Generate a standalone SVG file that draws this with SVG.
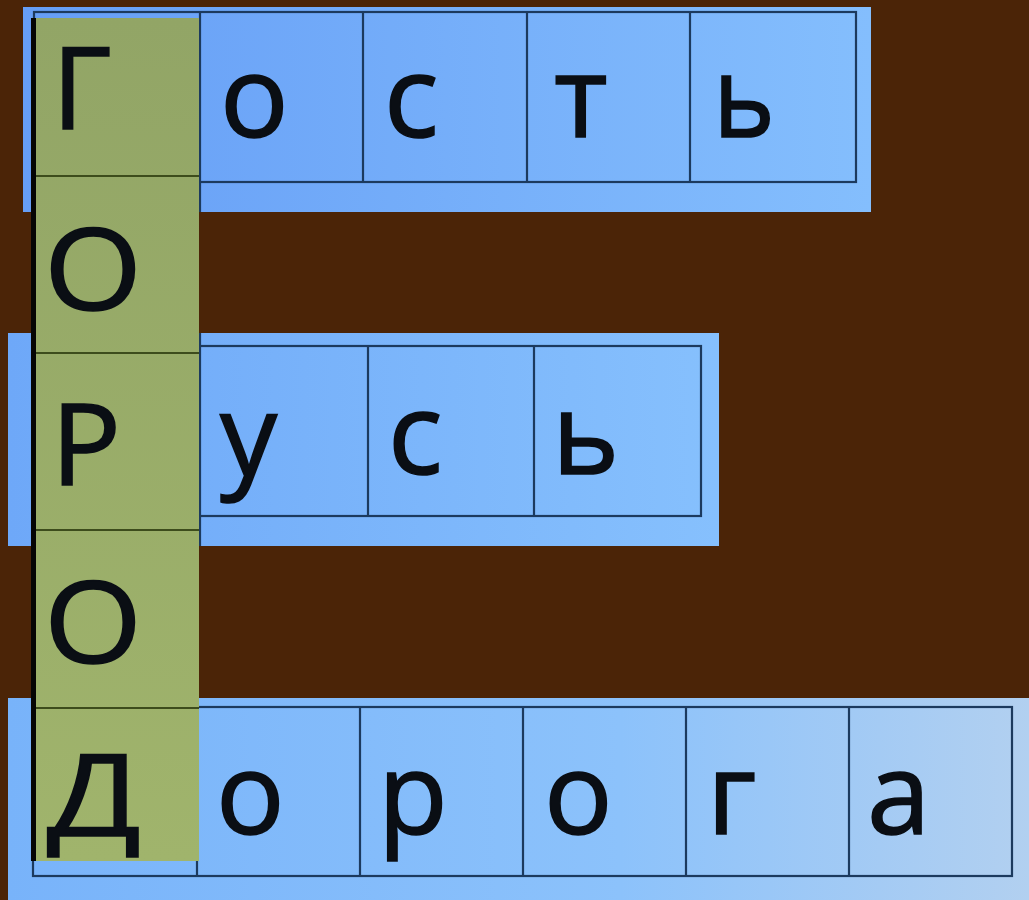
<svg xmlns="http://www.w3.org/2000/svg" width="1029" height="900" viewBox="0 0 1029 900">
  <defs>
    <linearGradient id="gTop" x1="0" y1="0" x2="1" y2="0">
      <stop offset="0" stop-color="#669ef6"/>
      <stop offset="1" stop-color="#84befd"/>
    </linearGradient>
    <linearGradient id="gMid" x1="0" y1="0" x2="1" y2="0">
      <stop offset="0" stop-color="#6ea8f8"/>
      <stop offset="1" stop-color="#86c0fd"/>
    </linearGradient>
    <linearGradient id="gBot" x1="0" y1="0" x2="1" y2="0">
      <stop offset="0" stop-color="#78b3fa"/>
      <stop offset="0.6" stop-color="#8cc2fb"/>
      <stop offset="1" stop-color="#b2d0f0"/>
    </linearGradient>
    <linearGradient id="gGreen" x1="0" y1="0" x2="0" y2="1">
      <stop offset="0" stop-color="#92a566"/>
      <stop offset="1" stop-color="#a0b46c"/>
    </linearGradient>
    <clipPath id="greenClip">
      <rect x="36" y="18" width="163" height="843"/>
    </clipPath>
    <style>
      .grid { fill: none; stroke: #1c3a5e; stroke-width: 2.2; }
      .sep { stroke: #1c3a5e; stroke-width: 2.2; }
      .gsep { stroke: #3d4c1c; stroke-width: 2.2; }
      .ch { font-family: "Open Sans", "DejaVu Sans", sans-serif; font-size: 114px; fill: #0a0e14; stroke: #0a0e14; stroke-width: 1.6; }
    </style>
  </defs>

  <rect x="0" y="0" width="1029" height="900" fill="#4b2407"/>

  <!-- Row 1: Гость -->
  <g id="row-gost">
    <rect x="23" y="7" width="848" height="205" fill="url(#gTop)"/>
    <rect class="grid" x="34" y="12" width="822" height="170"/>
    <line class="sep" x1="200" y1="12" x2="200" y2="212"/>
    <line class="sep" x1="363" y1="12" x2="363" y2="182"/>
    <line class="sep" x1="527" y1="12" x2="527" y2="182"/>
    <line class="sep" x1="690" y1="12" x2="690" y2="182"/>
    <text class="ch" x="220" y="137">о</text>
    <text class="ch" x="384" y="137">с</text>
    <text class="ch" x="554" y="137">т</text>
    <text class="ch" x="713" y="137" textLength="62" lengthAdjust="spacingAndGlyphs">ь</text>
  </g>

  <!-- Row 3: Русь -->
  <g id="row-rus">
    <rect x="8" y="333" width="711" height="213" fill="url(#gMid)"/>
    <rect class="grid" x="34" y="346" width="667" height="170"/>
    <line class="sep" x1="200" y1="333" x2="200" y2="546"/>
    <line class="sep" x1="368" y1="346" x2="368" y2="516"/>
    <line class="sep" x1="534" y1="346" x2="534" y2="516"/>
    <text class="ch" x="220" y="476">у</text>
    <text class="ch" x="388" y="474">с</text>
    <text class="ch" x="552" y="474">ь</text>
  </g>

  <!-- Row 5: Дорога -->
  <g id="row-doroga">
    <rect x="8" y="698" width="1021" height="202" fill="url(#gBot)"/>
    <rect class="grid" x="33" y="707" width="979" height="169"/>
    <line class="sep" x1="197" y1="707" x2="197" y2="876"/>
    <line class="sep" x1="360" y1="707" x2="360" y2="876"/>
    <line class="sep" x1="523" y1="707" x2="523" y2="876"/>
    <line class="sep" x1="686" y1="707" x2="686" y2="876"/>
    <line class="sep" x1="849" y1="707" x2="849" y2="876"/>
    <text class="ch" x="216" y="834">о</text>
    <text class="ch" x="378" y="834">р</text>
    <text class="ch" x="544" y="834">о</text>
    <text class="ch" x="707" y="834">г</text>
    <text class="ch" x="867" y="834">а</text>
  </g>

  <!-- Vertical word: ГОРОД -->
  <g id="column-gorod">
    <rect x="36" y="18" width="163" height="843" fill="url(#gGreen)"/>
    <line x1="33.5" y1="18" x2="33.5" y2="861" stroke="#050505" stroke-width="5"/>
    <line class="gsep" x1="36" y1="176" x2="199" y2="176"/>
    <line class="gsep" x1="36" y1="353" x2="199" y2="353"/>
    <line class="gsep" x1="36" y1="530" x2="199" y2="530"/>
    <line class="gsep" x1="36" y1="708" x2="199" y2="708"/>
    <g clip-path="url(#greenClip)">
      <text class="ch" x="52" y="129">Г</text>
      <text class="ch" x="44" y="310" textLength="98" lengthAdjust="spacingAndGlyphs">О</text>
      <text class="ch" x="51" y="485" textLength="70" lengthAdjust="spacingAndGlyphs">Р</text>
      <text class="ch" x="44" y="663" textLength="98" lengthAdjust="spacingAndGlyphs">О</text>
      <text class="ch" x="47" y="836" textLength="94" lengthAdjust="spacingAndGlyphs">Д</text>
    </g>
  </g>
</svg>
